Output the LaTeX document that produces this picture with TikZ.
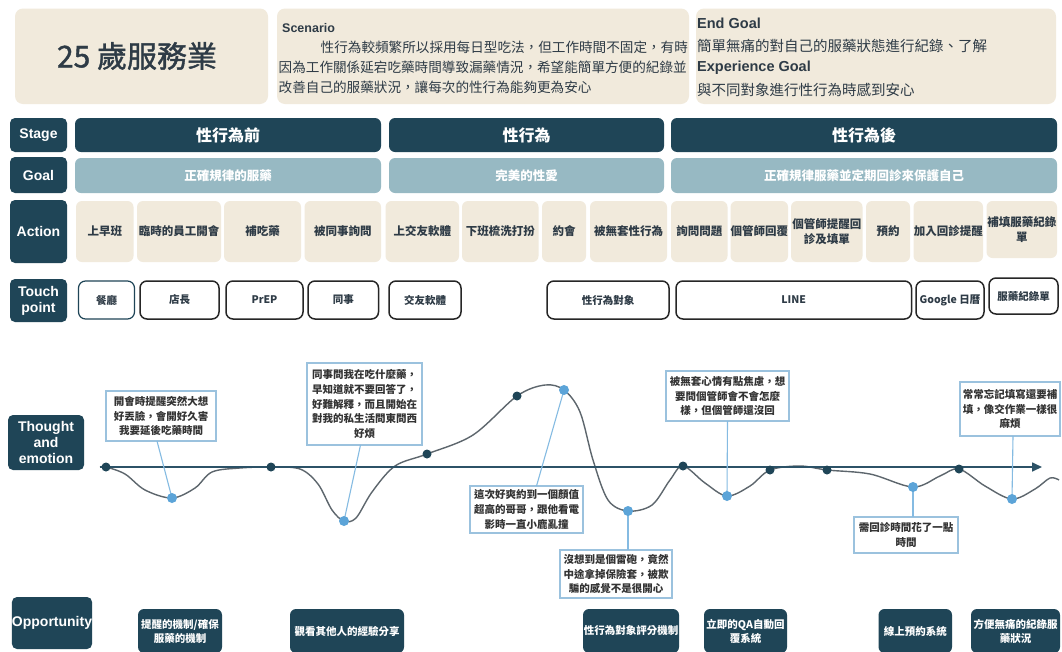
\documentclass[tikz,border=0pt]{standalone}
\usepackage{fontspec}
\setmainfont{Liberation Sans}
\newfontfamily\cjk{Noto Sans CJK TC}
\newfontfamily\cjkmed{Noto Sans CJK TC}[FakeBold=1.3]
\usetikzlibrary{calc,arrows.meta}
\definecolor{dk}{HTML}{1F4557}
\definecolor{gl}{HTML}{97B9C3}
\definecolor{bgc}{HTML}{F1EADC}
\definecolor{tx}{HTML}{2E3B46}
\definecolor{cb}{HTML}{9BC2DE}
\definecolor{bd}{HTML}{5CA4D8}
\definecolor{cv}{HTML}{5D666D}
\definecolor{axc}{HTML}{2C5267}
\newcommand\bx[7]{%
 \pgfmathsetmacro\bw{#4-#2}\pgfmathsetmacro\bh{#5-#3}%
 \pgfmathsetmacro\bcx{(#2+#4)/2}\pgfmathsetmacro\bcy{(#3+#5)/2}%
 \node[#6,minimum width=\bw pt,minimum height=\bh pt] (#1) at (\bcx,\bcy) {#7};}
\tikzset{
 base/.style={inner sep=0pt,outer sep=0pt,align=center},
 lab/.style={base,fill=dk,rounded corners=5pt,text=white,font=\bfseries\fontsize{14}{16}\selectfont},
 stg/.style={base,fill=dk,rounded corners=6pt,text=white,font=\cjk\bfseries\fontsize{16}{18}\selectfont},
 gol/.style={base,fill=gl,rounded corners=6pt,text=white,font=\cjk\bfseries\fontsize{12.5}{14}\selectfont},
 act/.style={base,fill=bgc,rounded corners=6pt,text=tx,font=\cjk\bfseries\fontsize{11.5}{15}\selectfont},
 tch/.style={base,draw=black!85,line width=1.5pt,fill=white,rounded corners=7pt,text=tx,font=\cjk\bfseries\fontsize{10.5}{12}\selectfont},
 topbox/.style={base,fill=bgc,rounded corners=8pt},
 cal/.style={base,draw=cb,line width=1.2pt,fill=white,text=black!80,font=\cjk\bfseries\fontsize{10.5}{14.7}\selectfont},
 opp/.style={base,fill=dk,rounded corners=6pt,text=white,font=\cjk\bfseries\fontsize{10.5}{14}\selectfont},
 ddot/.style={circle,fill=dk,inner sep=0pt,minimum size=9pt},
 bdot/.style={circle,fill=bd,inner sep=0pt,minimum size=10pt},
 con/.style={draw=bd!75!white,line width=1.1pt},
 toptxt/.style={anchor=west,inner sep=0pt,text=tx,font=\cjk\fontsize{13.6}{16}\selectfont},
 goaltxt/.style={anchor=west,inner sep=0pt,text=tx,font=\cjk\fontsize{14.5}{16}\selectfont},
 engtxt/.style={anchor=west,inner sep=0pt,text=tx,font=\bfseries\fontsize{14.5}{16}\selectfont}
}
\begin{document}
\begin{tikzpicture}[x=1pt,y=-1pt]
\useasboundingbox (0,0) rectangle (1062,651);
\fill[white] (0,0) rectangle (1062,651);
\clip (0,0) rectangle (1062,651);

% top header
\bx{t1}{15}{8.5}{268}{104}{topbox}{}
\node[inner sep=0pt,text=tx,font=\cjkmed\fontsize{30}{32}\selectfont] (title) at (137,56) {25 歲服務業};
\bx{t2}{277}{8.5}{689}{104}{topbox}{}
\node[anchor=west,inner sep=0pt,text=tx,font=\bfseries\fontsize{12.5}{14}\selectfont] (scn) at (282,28) {Scenario};
\node[toptxt] (sl1) at (320.5,47.5) {性行為較頻繁所以採用每日型吃法，但工作時間不固定，有時};
\node[toptxt] (sl2) at (278.5,67.5) {因為工作關係延宕吃藥時間導致漏藥情況，希望能簡單方便的紀錄並};
\node[toptxt] (sl3) at (278.5,87) {改善自己的服藥狀況，讓每次的性行為能夠更為安心};
\bx{t3}{696}{8.5}{1056}{104}{topbox}{}
\node[engtxt] (eg1) at (697,23) {End Goal};
\node[goaltxt] (eg2) at (697,45.5) {簡單無痛的對自己的服藥狀態進行紀錄、了解};
\node[engtxt] (eg3) at (697,67.5) {Experience Goal};
\node[goaltxt] (eg4) at (697,89.5) {與不同對象進行性行為時感到安心};

% row labels
\bx{lstage}{10}{118}{67}{152}{lab}{Stage}
\bx{lgoal}{10}{157}{67}{193}{lab}{Goal}
\bx{lact}{10}{200}{67}{263}{lab}{Action}
\bx{ltouch}{10}{279}{67}{322}{lab}{Touch\\point}
\bx{lthought}{8}{415}{84}{470}{lab}{Thought\\and\\emotion}
\bx{lopp}{12}{597}{92}{649}{lab}{Opportunity}

% stages
\bx{s1}{75}{118}{381}{152}{stg}{性行為前}
\bx{s2}{389}{118}{664}{152}{stg}{性行為}
\bx{s3}{671}{118}{1057}{152}{stg}{性行為後}
% goals
\bx{g1}{75}{158}{381}{193}{gol}{正確規律的服藥}
\bx{g2}{389}{158}{664}{193}{gol}{完美的性愛}
\bx{g3}{671}{158}{1057}{193}{gol}{正確規律服藥並定期回診來保護自己}

% actions
\bx{a1}{76}{201}{133.5}{262}{act}{上早班}
\bx{a2}{137}{201}{221}{262}{act}{臨時的員工開會}
\bx{a3}{224}{201}{301}{262}{act}{補吃藥}
\bx{a4}{304.5}{201}{381}{262}{act}{被同事詢問}
\bx{a5}{385.5}{201}{459}{262}{act}{上交友軟體}
\bx{a6}{462}{201}{538.5}{262}{act}{下班梳洗打扮}
\bx{a7}{542}{201}{586}{262}{act}{約會}
\bx{a8}{590}{201}{667}{262}{act}{被無套性行為}
\bx{a9}{671}{201}{727.5}{262}{act}{詢問問題}
\bx{a10}{730.5}{201}{788}{262}{act}{個管師回覆}
\bx{a11}{791}{201}{862.5}{262}{act}{個管師提醒回\\診及填單}
\bx{a12}{866}{201}{910}{262}{act}{預約}
\bx{a13}{913.5}{201}{983}{262}{act}{加入回診提醒}
\bx{a14}{986.5}{201}{1057}{258}{act}{補填服藥紀錄\\單}

% touch points
\bx{p1}{78.5}{281}{134.5}{319}{tch,draw=dk,line width=1.2pt}{餐廳}
\bx{p2}{140}{281}{219}{319}{tch}{店長}
\bx{p3}{226}{281}{303}{319}{tch}{PrEP}
\bx{p4}{308}{281}{378.5}{319}{tch}{同事}
\bx{p5}{389}{281}{461}{319}{tch}{交友軟體}
\bx{p6}{547}{281}{669}{319}{tch}{性行為對象}
\bx{p7}{676}{281}{911.5}{319}{tch}{LINE}
\bx{p8}{916}{281}{984}{319}{tch}{Google 日曆}
\bx{p9}{989}{278}{1058}{314}{tch}{服藥紀錄單}

% emotion curve
\draw[cv,line width=1.4pt] plot[smooth,tension=0.55] coordinates {
(100,467) (106,467) (125,474) (145,490) (172,498) (195,488) (212,472) (240,468) (271,467)
(300,469) (318,484) (332,510) (344,521) (356,518) (372,492) (395,466) (427,454) (473,435)
(517,396) (545,385) (564,390) (580,412) (593,460) (608,500) (628,511) (652,505) (670,480)
(683,466) (705,483) (727,496) (750,486) (770,470) (800,466) (827,470) (870,474) (913,487)
(940,476) (959,469) (985,486) (1012,499) (1035,489) (1050,478) (1059,480)};
\coordinate (ax0) at (100,467);
\coordinate (ax1) at (1042,467);
\draw[axc,line width=1.6pt,-{Triangle[length=10pt,width=9pt]}] (ax0) -- (ax1);

% dark dots
\node[ddot] (d1) at (106,467) {};
\node[ddot] (d2) at (271,467) {};
\node[ddot] (d3) at (427,454) {};
\node[ddot] (d4) at (517,396) {};
\node[ddot] (d5) at (683,466) {};
\node[ddot] (d6) at (770,470) {};
\node[ddot] (d7) at (827,470) {};
\node[ddot] (d8) at (959,469) {};

% callouts
\bx{c1}{106}{391}{216}{441}{cal}{開會時提醒突然大想\\好丟臉，會開好久害\\我要延後吃藥時間}
\bx{c2}{307}{363}{422}{445}{cal}{同事問我在吃什麼藥，\\早知道就不要回答了，\\好難解釋，而且開始在\\對我的私生活問東問西\\好煩}
\bx{c3}{470}{486}{583}{533}{cal}{這次好爽約到一個顏值\\超高的哥哥，跟他看電\\影時一直小鹿亂撞}
\bx{c4}{560}{550}{672}{598}{cal}{沒想到是個雷砲，竟然\\中途拿掉保險套，被欺\\騙的感覺不是很開心}
\bx{c5}{666}{371}{789}{421}{cal}{被無套心情有點焦慮，想\\要問個管師會不會怎麼\\樣，但個管師還沒回}
\bx{c6}{854}{517}{958}{553}{cal}{需回診時間花了一點\\時間}
\bx{c7}{960}{382}{1060}{436}{cal}{常常忘記填寫還要補\\填，像交作業一樣很\\麻煩}

% blue dots positions
\coordinate (bp1) at (172,498);
\coordinate (bp2) at (344,521);
\coordinate (bp3) at (564,390);
\coordinate (bp4) at (628,511);
\coordinate (bp5) at (727,496);
\coordinate (bp6) at (913,487);
\coordinate (bp7) at (1012,499);

% connectors
\draw[con] ($(c1.south)+(-4,0)$) -- (bp1);
\draw[con] ($(c2.south)+(-4,0)$) -- (bp2);
\draw[con] ($(c3.north)+(10,0)$) -- (bp3);
\draw[con] (bp4) -- (bp4 |- c4.north);
\draw[con] (c5.south) -- (bp5);
\draw[con] (bp6) -- (bp6 |- c6.north);
\draw[con] ($(c7.south)+(3,0)$) -- (bp7);

\node[bdot] (b1) at (bp1) {};
\node[bdot] (b2) at (bp2) {};
\node[bdot] (b3) at (bp3) {};
\node[bdot] (b4) at (bp4) {};
\node[bdot] (b5) at (bp5) {};
\node[bdot] (b6) at (bp6) {};
\node[bdot] (b7) at (bp7) {};

% opportunities
\bx{o1}{138}{609}{222}{653}{opp}{提醒的機制/確保\\服藥的機制}
\bx{o2}{290}{609}{404}{653}{opp}{觀看其他人的經驗分享}
\bx{o3}{583}{609}{679}{653}{opp}{性行為對象評分機制}
\bx{o4}{704}{609}{787}{653}{opp}{立即的QA自動回\\覆系統}
\bx{o5}{878.5}{609}{952}{653}{opp}{線上預約系統}
\bx{o6}{971}{609}{1060}{653}{opp}{方便無痛的紀錄服\\藥狀況}
\end{tikzpicture}
\end{document}
